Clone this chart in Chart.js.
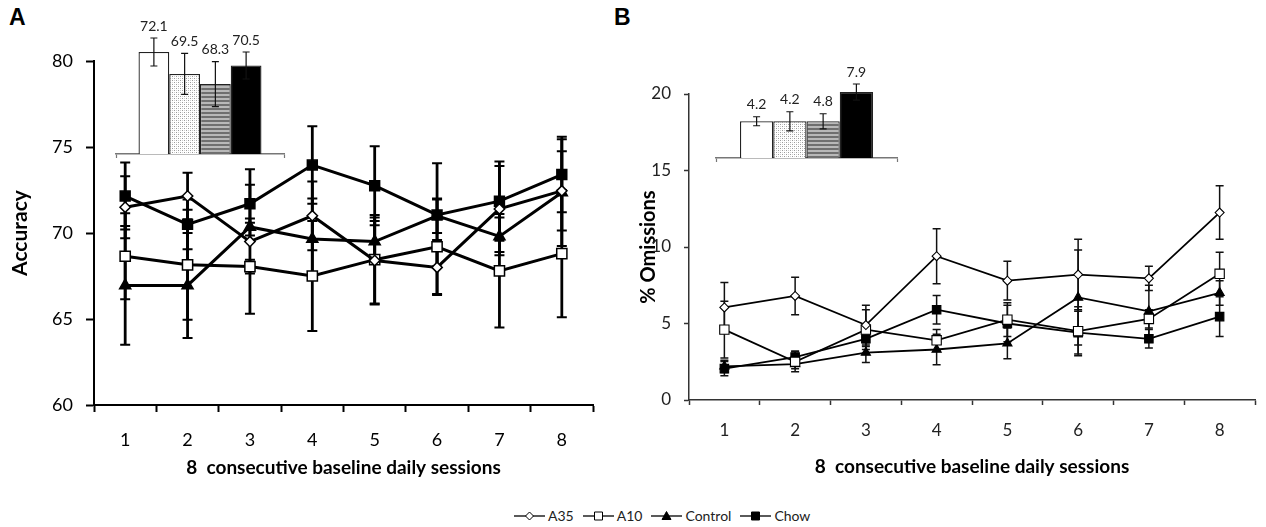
<!DOCTYPE html>
<html><head><meta charset="utf-8">
<script src="https://cdn.jsdelivr.net/npm/chart.js@4.4.1/dist/chart.umd.min.js"></script>
<style>
html,body{margin:0;padding:0;background:#fff;}
body{width:1266px;height:527px;position:relative;overflow:hidden;font-family:Lato,'Open Sans',sans-serif;}
canvas.abs{position:absolute;}
#cA{left:0;top:0;} #cB{left:620px;top:0;} #iA{left:100px;top:0;} #iB{left:700px;top:40px;}
.panel{position:absolute;font:bold 23px 'Liberation Sans',Arial,sans-serif;color:#000;}
#legend{position:absolute;left:514px;top:507px;display:flex;gap:9px;align-items:center;font-size:14px;color:#222;font-family:Lato,sans-serif;}
.item{display:flex;align-items:center;}
.item canvas{margin-right:3px;}
</style></head><body>
<div class="panel" style="left:9px;top:4px;">A</div>
<div class="panel" style="left:614px;top:4px;">B</div>
<canvas id="cA" class="abs" width="625" height="490"></canvas>
<canvas id="cB" class="abs" width="646" height="490"></canvas>
<canvas id="iA" class="abs" width="200" height="170"></canvas>
<canvas id="iB" class="abs" width="220" height="130"></canvas>
<div id="legend"></div>
<script>
// ---------- DATA ----------
const sessions = ['1','2','3','4','5','6','7','8'];
const groups = ['A35','A10','Control','Chow'];

// Panel A: Accuracy
const accA35     = [71.5, 72.15, 69.5, 71.0, 68.4, 68.0, 71.4, 72.45];
const accA10     = [68.65, 68.15, 68.05, 67.5, 68.45, 69.2, 67.8, 68.8];
const accControl = [66.95, 66.95, 70.35, 69.65, 69.5, 71.0, 69.8, 72.35];
const accChow    = [72.15, 70.5, 71.7, 73.95, 72.75, 71.05, 71.85, 73.4];
const accA35Err     = [1.8, 1.35, 4.2, 2.0, 2.5, 1.6, 2.5, 2.3];
const accA10Err     = [2.5, 3.2, 0.4, 3.2, 2.6, 2.75, 3.3, 3.7];
const accControlErr = [3.45, 3.05, 0.5, 2.35, 1.2, 1.0, 1.1, 3.1];
const accChowErr    = [1.95, 1.45, 1.1, 2.25, 2.3, 3.0, 2.3, 2.2];
const accTicks = [60, 65, 70, 75, 80];

// Panel A inset: group means
const accMeans = [72.1, 69.5, 68.3, 70.5];
const accMeanErr = [1.66, 2.43, 2.67, 1.6];
const accMeanLabels = ['72.1', '69.5', '68.3', '70.5'];

// Panel B: % Omissions
const omA35     = [6.05, 6.8, 4.9, 9.4, 7.8, 8.2, 7.95, 12.25];
const omA10     = [4.6, 2.5, 4.6, 3.9, 5.25, 4.5, 5.3, 8.25];
const omControl = [2.2, 2.35, 3.1, 3.3, 3.7, 6.7, 5.8, 7.0];
const omChow    = [2.05, 2.8, 4.0, 5.9, 5.0, 4.4, 4.0, 5.45];
const omA35Err     = [1.63, 1.22, 1.3, 1.8, 1.27, 2.3, 0.8, 1.75];
const omA10Err     = [1.85, 0.65, 1.3, 0.7, 1.1, 1.6, 0.6, 1.4];
const omControlErr = [0.4, 0.3, 0.65, 1.0, 1.0, 3.1, 1.7, 0.8];
const omChowErr    = [0.46, 0.4, 0.5, 0.93, 1.2, 1.4, 0.6, 1.3];
const omTicks = [0, 5, 10, 15, 20];

// Panel B inset: group means (bar heights as drawn) and printed labels
const omMeans = [4.4, 4.4, 4.4, 7.9];
const omMeanErr = [0.54, 1.14, 0.9, 0.96];
const omMeanLabels = ['4.2', '4.2', '4.8', '7.9'];

// ---------- STYLE ----------
Chart.defaults.font.family = 'Lato, "Open Sans", sans-serif';
Chart.defaults.color = '#000';
Chart.defaults.animation = false;

function makePattern(kind) {
  const c = document.createElement('canvas');
  const g = c.getContext('2d');
  c.width = 4; c.height = 4;
  if (kind === 'dots') {
    g.fillStyle = '#fff'; g.fillRect(0,0,4,4);
    g.fillStyle = '#9a9a9a'; g.fillRect(0,0,1,1); g.fillRect(2,2,1,1);
    g.fillStyle = '#cfcfcf'; g.fillRect(2,0,1,1); g.fillRect(0,2,1,1);
  } else {
    g.fillStyle = '#6f6f6f'; g.fillRect(0,0,4,2);
    g.fillStyle = '#b8b8b8'; g.fillRect(0,2,4,2);
  }
  return g.createPattern(c, 'repeat');
}
const barFills = ['#ffffff', makePattern('dots'), makePattern('stripes'), '#000000'];

const markerStyle = [
  {style:'rectRot', fill:'#ffffff'},
  {style:'rect', fill:'#ffffff'},
  {style:'triangle', fill:'#000000'},
  {style:'rect', fill:'#000000'}
];

const errorBars = {
  id: 'errorBars',
  beforeDatasetsDraw(chart, args, opts) {
    const ctx = chart.ctx, ys = chart.scales.y;
    ctx.save();
    ctx.strokeStyle = opts.color; ctx.lineCap = 'butt';
    chart.data.datasets.forEach((ds, di) => {
      const meta = chart.getDatasetMeta(di);
      meta.data.forEach((pt, i) => {
        const v = ds.data[i], e = ds.errors[i];
        const x = pt.x, y1 = ys.getPixelForValue(v + e), y2 = ys.getPixelForValue(v - e);
        ctx.lineWidth = opts.width;
        ctx.beginPath();
        ctx.moveTo(x, y1); ctx.lineTo(x, y2); ctx.stroke();
        ctx.lineWidth = opts.capWidth;
        ctx.beginPath();
        ctx.moveTo(x - opts.cap, y1); ctx.lineTo(x + opts.cap, y1);
        ctx.moveTo(x - opts.cap, y2); ctx.lineTo(x + opts.cap, y2);
        ctx.stroke();
      });
    });
    ctx.restore();
  }
};

const barErrors = {
  id: 'barErrors',
  afterDatasetsDraw(chart, args, opts) {
    const ctx = chart.ctx, ys = chart.scales.y;
    ctx.save();
    chart.data.datasets.forEach((ds, di) => {
      const el = chart.getDatasetMeta(di).data[0];
      const v = ds.data[0], e = ds.errors[0];
      const x = el.x, y1 = ys.getPixelForValue(v + e), y2 = ys.getPixelForValue(v - e);
      ctx.strokeStyle = '#111'; ctx.lineWidth = 1.2;
      ctx.beginPath();
      ctx.moveTo(x, y1); ctx.lineTo(x, y2);
      ctx.moveTo(x - 3.5, y1); ctx.lineTo(x + 3.5, y1);
      ctx.moveTo(x - 3.5, y2); ctx.lineTo(x + 3.5, y2);
      ctx.stroke();
      ctx.fillStyle = '#222';
      ctx.font = '14px Lato, sans-serif';
      ctx.textAlign = 'center'; ctx.textBaseline = 'middle';
      ctx.fillText(ds.valueLabel, x, y1 - opts.labelGap);
    });
    ctx.restore();
  }
};

function lineSets(series, errs, sizes, lw, pbw) {
  return series.map((d, i) => ({
    label: groups[i], data: d, errors: errs[i],
    borderColor: '#000', borderWidth: lw, tension: 0, fill: false,
    pointStyle: markerStyle[i].style, pointRadius: sizes[i],
    pointBackgroundColor: markerStyle[i].fill, pointBorderColor: '#000', pointBorderWidth: pbw,
    clip: false
  }));
}

// ---------- PANEL A ----------
new Chart(document.getElementById('cA'), {
  type: 'line',
  data: { labels: sessions,
    datasets: lineSets([accA35, accA10, accControl, accChow],
                       [accA35Err, accA10Err, accControlErr, accChowErr],
                       [5.2, 7.2, 6.4, 7.0], 3, 1.5) },
  options: {
    responsive: false, devicePixelRatio: 1,
    layout: { padding: { top: 61, right: 32, left: 0, bottom: 0 } },
    plugins: { legend: {display:false}, tooltip: {enabled:false},
      errorBars: { color:'#000', width: 2.8, capWidth: 2, cap: 5 } },
    scales: {
      x: { type:'category', offset: true,
        grid: { offset: true, drawOnChartArea: false, tickLength: 7, tickColor:'#000', tickWidth: 2 },
        border: { color:'#000', width: 2 },
        ticks: { font:{size:18}, color:'#000', padding: 17, maxRotation: 0 },
        title: { display:true, text:'8  consecutive baseline daily sessions', font:{size:19, weight:'bold'}, color:'#000', padding:{top:0,bottom:11} },
        afterFit: s => { s.height = 85; } },
      y: { min: 60, max: 80,
        afterBuildTicks: s => { s.ticks = accTicks.map(v => ({value: v})); },
        grid: { drawOnChartArea: false, tickLength: 8, tickColor:'#000', tickWidth: 2 },
        border: { color:'#000', width: 2 },
        ticks: { font:{size:18}, color:'#000', padding: 13 },
        title: { display:true, text:'Accuracy', font:{size:21, weight:'bold'}, color:'#000', padding:{top:8,bottom:0} },
        afterFit: s => { s.width = 94; } }
    }
  },
  plugins: [errorBars]
});

// ---------- PANEL B ----------
new Chart(document.getElementById('cB'), {
  type: 'line',
  data: { labels: sessions,
    datasets: lineSets([omA35, omA10, omControl, omChow],
                       [omA35Err, omA10Err, omControlErr, omChowErr],
                       [4.5, 6.6, 5.3, 6.0], 1.8, 1.1) },
  options: {
    responsive: false, devicePixelRatio: 1,
    layout: { padding: { top: 94, right: 11, left: 0, bottom: 0 } },
    plugins: { legend: {display:false}, tooltip: {enabled:false},
      errorBars: { color:'#111', width: 1.5, capWidth: 1.5, cap: 4 } },
    scales: {
      x: { type:'category', offset: true,
        grid: { offset: true, drawOnChartArea: false, tickLength: 5, tickColor:'#333', tickWidth: 1.5 },
        border: { color:'#333', width: 1.5 },
        ticks: { font:{size:17}, color:'#222', padding: 15, maxRotation: 0 },
        title: { display:true, text:'8  consecutive baseline daily sessions', font:{size:19, weight:'bold'}, color:'#000', padding:{top:0,bottom:12} },
        afterFit: s => { s.height = 90; } },
      y: { min: 0, max: 20,
        afterBuildTicks: s => { s.ticks = omTicks.map(v => ({value: v})); },
        grid: { drawOnChartArea: false, tickLength: 5, tickColor:'#333', tickWidth: 1.5 },
        border: { color:'#333', width: 1.5 },
        ticks: { font:{size:17}, color:'#222', padding: 13 },
        title: { display:true, text:'% Omissions', font:{size:20, weight:'bold'}, color:'#000', padding:{top:17,bottom:0} },
        afterFit: s => { s.width = 69; } }
    }
  },
  plugins: [errorBars]
});

// ---------- INSETS ----------
function inset(id, means, errs, labels, min, max, padding, catPct, xH, labelGap) {
  new Chart(document.getElementById(id), {
    type: 'bar',
    data: { labels: [''],
      datasets: means.map((m, i) => ({ label: groups[i], data: [m], errors: [errs[i]], valueLabel: labels[i],
        backgroundColor: barFills[i], borderColor: '#222', borderWidth: 1.3 })) },
    options: {
      responsive: false, devicePixelRatio: 1,
      layout: { padding },
      datasets: { bar: { barPercentage: 1, categoryPercentage: catPct } },
      plugins: { legend:{display:false}, tooltip:{enabled:false}, barErrors: { labelGap } },
      scales: {
        x: { offset: true, ticks: { display: false },
          grid: { offset: true, drawOnChartArea: false, tickLength: 4, tickColor:'#777', tickWidth: 1.2 },
          border: { color:'#777', width: 1.5 },
          afterFit: s => { s.height = xH; } },
        y: { display: false, min, max }
      }
    },
    plugins: [barErrors]
  });
}
inset('iA', accMeans, accMeanErr, accMeanLabels, 60, 74, {top:36, left:16, right:16, bottom:0}, 0.732, 16, 12);
inset('iB', omMeans, omMeanErr, omMeanLabels, 0, 10, {top:34.5, left:16, right:23, bottom:0}, 0.735, 12, 12);

// ---------- LEGEND ----------
const legend = document.getElementById('legend');
groups.forEach((g, i) => {
  const item = document.createElement('div'); item.className = 'item';
  const c = document.createElement('canvas'); c.width = 31; c.height = 14;
  const ctx = c.getContext('2d');
  ctx.strokeStyle = '#000'; ctx.lineWidth = 1.3;
  ctx.beginPath(); ctx.moveTo(0, 7); ctx.lineTo(31, 7); ctx.stroke();
  ctx.fillStyle = markerStyle[i].fill; ctx.lineWidth = 1;
  ctx.beginPath();
  const x = 15.5, y = 7;
  if (i === 0) { ctx.moveTo(x, y-4); ctx.lineTo(x+4, y); ctx.lineTo(x, y+4); ctx.lineTo(x-4, y); ctx.closePath(); }
  else if (i === 2) { ctx.moveTo(x, y-4.5); ctx.lineTo(x+4.5, y+3.5); ctx.lineTo(x-4.5, y+3.5); ctx.closePath(); }
  else { ctx.rect(x-4, y-4, 8, 8); }
  ctx.fill(); ctx.stroke();
  const t = document.createElement('span'); t.textContent = g;
  item.appendChild(c); item.appendChild(t); legend.appendChild(item);
});
</script>
</body></html>
